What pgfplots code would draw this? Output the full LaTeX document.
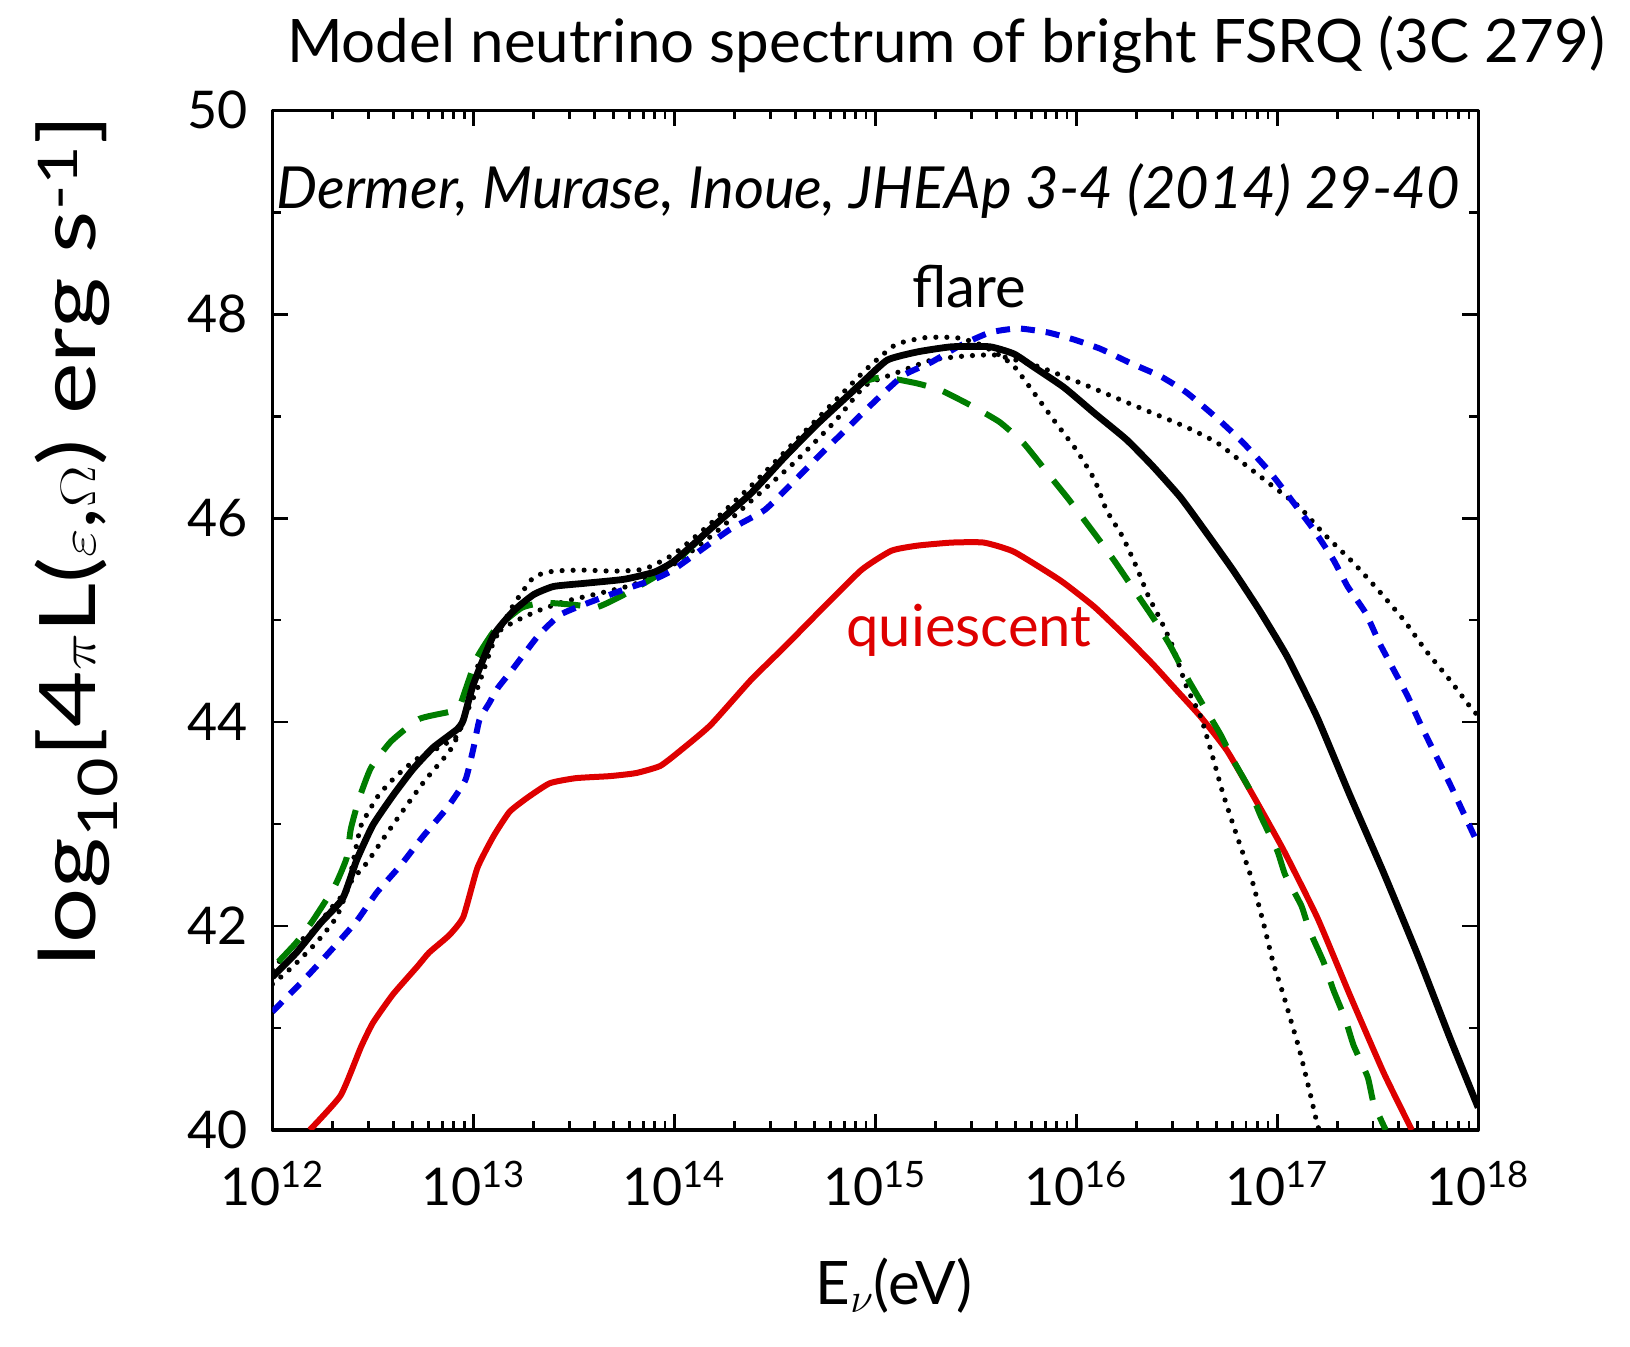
\documentclass[border=0pt]{standalone}
\usepackage{fontspec}
\setmainfont{Lato}
\usepackage{graphicx}
\usepackage{pgfplots}
\usepackage{pgfplotstable}
\pgfplotsset{compat=1.18}
\usetikzlibrary{calc}
\definecolor{cred}{RGB}{222,0,0}
\definecolor{cgreen}{RGB}{0,125,0}
\definecolor{cblue}{RGB}{0,0,225}

\pgfplotstableread{
x y
12.00 41.50
12.12 41.74
12.24 42.03
12.35 42.27
12.42 42.65
12.50 42.99
12.60 43.28
12.70 43.54
12.80 43.75
12.92 43.93
12.95 44.02
13.00 44.37
13.10 44.85
13.20 45.09
13.30 45.25
13.40 45.33
13.55 45.36
13.75 45.40
13.90 45.47
14.00 45.58
14.20 45.93
14.38 46.24
14.55 46.60
14.71 46.92
14.93 47.32
15.06 47.55
15.21 47.63
15.38 47.68
15.57 47.68
15.69 47.61
15.79 47.48
15.94 47.28
16.09 47.03
16.25 46.77
16.38 46.51
16.52 46.20
16.65 45.85
16.78 45.49
16.91 45.10
17.05 44.64
17.20 44.04
17.36 43.29
17.53 42.52
17.70 41.71
17.86 40.90
18.00 40.22
}\flare

\pgfplotstableread{
x y
12.03 41.65
12.12 41.84
12.20 42.05
12.31 42.39
12.37 42.67
12.39 42.95
12.43 43.24
12.49 43.55
12.59 43.81
12.73 44.03
12.88 44.10
12.93 44.15
12.97 44.37
13.02 44.64
13.11 44.91
13.24 45.12
13.35 45.17
13.50 45.15
13.62 45.13
13.75 45.25
13.90 45.42
14.00 45.56
14.20 45.93
14.38 46.24
14.55 46.60
14.71 46.92
14.93 47.32
15.04 47.38
15.21 47.32
15.33 47.25
15.49 47.09
15.62 46.94
15.74 46.73
15.87 46.41
15.96 46.19
16.09 45.85
16.19 45.58
16.29 45.29
16.39 45.00
16.47 44.74
16.55 44.44
16.63 44.17
16.72 43.87
16.78 43.63
16.86 43.35
16.92 43.07
17.00 42.74
17.04 42.50
17.12 42.20
17.16 41.96
17.23 41.65
17.28 41.37
17.34 41.08
17.38 40.83
17.45 40.52
17.48 40.26
17.54 40.00
}\green

\pgfplotstableread{
x y
12.00 41.16
12.17 41.50
12.30 41.78
12.42 42.05
12.52 42.33
12.64 42.60
12.75 42.88
12.87 43.16
12.96 43.43
13.00 43.74
13.03 44.02
13.08 44.19
13.12 44.33
13.20 44.53
13.32 44.84
13.43 45.05
13.56 45.16
13.75 45.30
13.90 45.40
14.00 45.50
14.27 45.88
14.45 46.08
14.60 46.37
14.73 46.63
14.86 46.88
15.00 47.15
15.14 47.40
15.28 47.53
15.42 47.69
15.57 47.82
15.71 47.86
15.86 47.82
15.99 47.75
16.12 47.66
16.27 47.52
16.42 47.39
16.55 47.23
16.70 46.98
16.83 46.74
16.96 46.46
17.07 46.18
17.18 45.89
17.28 45.59
17.35 45.33
17.44 45.07
17.51 44.77
17.58 44.51
17.65 44.25
17.72 43.95
17.86 43.39
18.00 42.80
}\blue

\pgfplotstableread{
x y
12.186 40.00
12.34 40.34
12.44 40.81
12.50 41.05
12.60 41.33
12.72 41.60
12.78 41.74
12.88 41.91
12.95 42.09
13.02 42.57
13.10 42.88
13.18 43.12
13.27 43.26
13.38 43.40
13.51 43.45
13.68 43.47
13.81 43.50
13.93 43.57
14.03 43.72
14.18 43.97
14.38 44.41
14.55 44.74
14.71 45.06
14.93 45.49
15.08 45.68
15.21 45.73
15.38 45.76
15.54 45.76
15.69 45.67
15.92 45.39
16.09 45.13
16.25 44.83
16.38 44.57
16.50 44.31
16.62 44.05
16.75 43.72
16.88 43.28
17.03 42.75
17.20 42.08
17.36 41.33
17.53 40.56
17.67 40.00
}\quiet

\pgfplotstableread{
x y
12.00 41.57
12.09 41.78
12.20 41.95
12.29 42.17
12.37 42.36
12.41 42.71
12.44 42.98
12.49 43.16
12.52 43.26
12.58 43.40
12.65 43.53
12.72 43.64
12.80 43.72
12.92 43.86
12.95 44.02
13.02 44.33
13.10 44.78
13.20 45.15
13.30 45.42
13.40 45.48
13.55 45.49
13.70 45.48
13.85 45.50
14.00 45.65
14.20 45.98
14.40 46.35
14.60 46.75
14.80 47.15
14.95 47.45
15.10 47.70
15.25 47.77
15.40 47.77
15.50 47.72
15.60 47.62
15.69 47.49
15.80 47.20
15.90 46.93
16.00 46.67
16.09 46.38
16.15 46.08
16.23 45.82
16.30 45.52
16.36 45.23
16.42 45.00
16.48 44.74
16.55 44.34
16.62 44.05
16.68 43.65
16.73 43.30
16.80 42.88
16.87 42.48
16.93 42.04
16.98 41.64
17.03 41.33
17.07 41.06
17.11 40.79
17.16 40.39
17.20 40.05
17.21 40.00
}\dotA

\pgfplotstableread{
x y
12.00 41.43
12.10 41.60
12.22 41.84
12.32 42.09
12.39 42.43
12.47 42.62
12.56 42.88
12.66 43.16
12.76 43.43
12.88 43.71
12.92 43.86
12.97 44.16
13.03 44.60
13.10 44.85
13.20 44.98
13.32 45.09
13.45 45.18
13.60 45.25
13.80 45.35
14.00 45.55
14.20 45.85
14.40 46.20
14.60 46.55
14.80 46.95
14.95 47.30
15.10 47.42
15.28 47.55
15.45 47.59
15.59 47.60
15.70 47.55
15.82 47.48
16.04 47.31
16.22 47.16
16.38 47.03
16.55 46.89
16.70 46.74
16.83 46.54
16.96 46.34
17.11 46.11
17.23 45.85
17.38 45.56
17.50 45.30
17.63 45.00
17.74 44.70
17.86 44.41
17.96 44.15
18.00 44.06
}\dotB

\begin{document}
\begin{tikzpicture}
\begin{axis}[
  name=ax,
  scale only axis, width=602.9pt, height=509.9pt,
  xmin=12, xmax=18, ymin=40, ymax=50,
  xtick={12,13,14,15,16,17,18},
  xticklabels={10\textsuperscript{12},10\textsuperscript{13},10\textsuperscript{14},10\textsuperscript{15},10\textsuperscript{16},10\textsuperscript{17},10\textsuperscript{18}},
  minor xtick={12.301,12.477,12.602,12.699,12.778,12.845,12.903,12.954,
               13.301,13.477,13.602,13.699,13.778,13.845,13.903,13.954,
               14.301,14.477,14.602,14.699,14.778,14.845,14.903,14.954,
               15.301,15.477,15.602,15.699,15.778,15.845,15.903,15.954,
               16.301,16.477,16.602,16.699,16.778,16.845,16.903,16.954,
               17.301,17.477,17.602,17.699,17.778,17.845,17.903,17.954},
  ytick={40,42,44,46,48,50},
  minor ytick={41,43,45,47,49},
  tick align=inside,
  major tick length=8pt, minor tick length=4.5pt,
  every tick/.style={black, line width=1.4pt},
  axis line style={line width=1.6pt},
  tick label style={font=\fontsize{26}{28}\selectfont},
  /pgf/number format/assume math mode=true,
  yticklabel style={xshift=-9pt},
  xticklabel style={yshift=-12pt},
  clip mode=individual,
  line join=round,
]
\addplot[cred, line width=3pt, smooth, tension=0.3] table {\quiet};
\addplot[black, line width=2.6pt, line cap=round, dash pattern=on 0pt off 5.5pt, smooth, tension=0.3] table {\dotA};
\addplot[black, line width=2.6pt, line cap=round, dash pattern=on 0pt off 5.5pt, smooth, tension=0.3] table {\dotB};
\addplot[cgreen, line width=3pt, dash pattern=on 15pt off 9pt, smooth, tension=0.3] table {\green};
\addplot[cblue, line width=3pt, dash pattern=on 7pt off 5.5pt, smooth, tension=0.3] table {\blue};
\addplot[black, line width=3.4pt, smooth, tension=0.3] table {\flare};

\coordinate (bl) at (rel axis cs:0,0);
\node[anchor=base, font=\fontsize{30}{32}\selectfont] at (rel axis cs:0.5586,1.0469) {Model neutrino spectrum of bright FSRQ (3C 279)};
\node[anchor=base, font=\fontsize{29}{31}\selectfont\itshape] at (rel axis cs:0.494,0.904) {Dermer, Murase, Inoue, JHEAp 3-4 (2014) 29-40};
\node[anchor=base, font=\fontsize{29}{30}\selectfont] at (axis cs:15.466,48.07) {flare};
\node[anchor=base, text=cred, font=\fontsize{29}{30}\selectfont] at (axis cs:15.466,44.74) {quiescent};
\node[anchor=center, rotate=90, font=\fontsize{39}{41}\selectfont] at ([xshift=-98pt]rel axis cs:0,0.578) {\scalebox{1.25}[1]{log\textsubscript{10}[4$\pi$L($\varepsilon$,$\Omega$) erg s\textsuperscript{-1}]}};
\node[anchor=base, font=\fontsize{30}{32}\selectfont] at ([yshift=-87.3pt]rel axis cs:0.5155,0) {E\textsubscript{$\nu$}(eV)};
\end{axis}
\pgfresetboundingbox
\path[use as bounding box] ($(bl)+(-136.2pt,-108.5pt)$) rectangle ++(815pt,673.5pt);
\end{tikzpicture}
\end{document}
